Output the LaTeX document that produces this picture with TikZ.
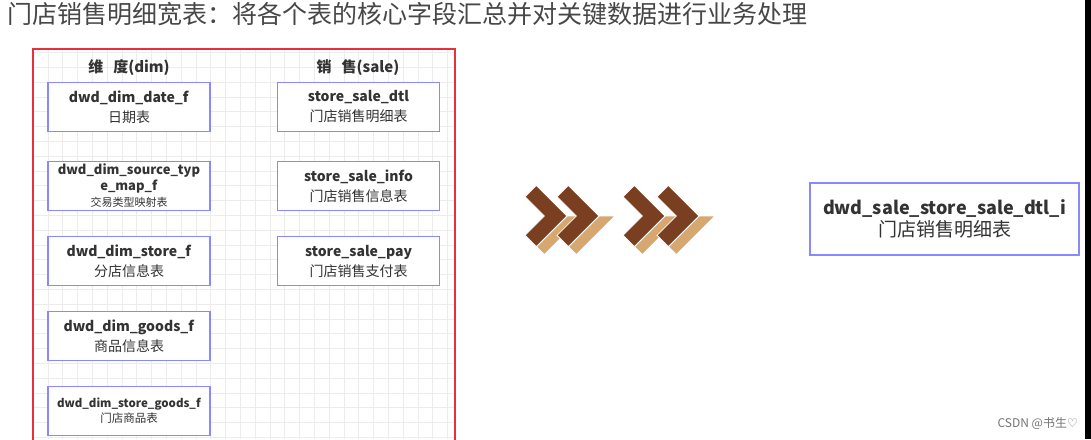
\documentclass[tikz,border=0pt]{standalone}
\usepackage{fontspec}
\setmainfont{Noto Sans CJK SC}
\newfontfamily\symfont{DejaVu Sans}
\usepackage{tikz}
\usetikzlibrary{calc}
\usepackage{xcolor}
\definecolor{boxblue}{RGB}{136,136,255}
\definecolor{framered}{RGB}{232,48,56}
\definecolor{gridgray}{RGB}{236,236,236}
\definecolor{chevdark}{RGB}{122,62,32}
\definecolor{chevtan}{RGB}{214,168,112}
\definecolor{textgray}{RGB}{51,51,51}

\begin{document}
\begin{tikzpicture}[x=1pt,y=-1pt,
  tbl/.style={draw=boxblue,line width=1.8pt,fill=white,minimum width=162,minimum height=49,
    inner sep=0pt,align=center,text=textgray,font=\fontsize{14}{20}\selectfont},
  hdr/.style={text=textgray,font=\bfseries\fontsize{15}{18}\selectfont},
  gridline/.style={gridgray,line width=0.8pt}
  ]
\def\L{25}
\def\c{5.66}
\def\m{11.31}
\def\t{8}
\useasboundingbox (0,0) rectangle (1091,439);
\node[anchor=west,text=black!72,font=\fontsize{25}{28}\selectfont,inner sep=0pt] (title) at (7,14)
  {门店销售明细宽表：将各个表的核心字段汇总并对关键数据进行业务处理};
% grid
\begin{scope}
\clip (33,49) rectangle (456,439);
\foreach \i in {0,...,29} \draw[gridline] ({33.2+\i*14.8},49) -- ++(0,390);
\foreach \j in {0,...,26} \draw[gridline] (33,{52.6+\j*14.8}) -- ++(423,0);
\end{scope}
\draw[framered,line width=1.8pt] (33,445) -- (33,49) -- (455,49) -- (455,445);
\node[hdr] (hdim) at (129,68) {维\hspace{10pt}度(dim)};
\node[hdr] (hsale) at (358,68) {销\hspace{10pt}售(sale)};
% dim tables
\node[tbl] (d1) at (129,107) {\textbf{dwd\_dim\_date\_f}\\日期表};
\node[tbl,font=\fontsize{13}{16}\selectfont] (d2) at (129,186)
  {\textbf{dwd\_dim\_source\_typ}\\\textbf{e\_map\_f}\\{\fontsize{11}{16}\selectfont 交易类型映射表}};
\node[tbl] (d3) at (129,261) {\textbf{dwd\_dim\_store\_f}\\分店信息表};
\node[tbl] (d4) at (129,336) {\textbf{dwd\_dim\_goods\_f}\\商品信息表};
\node[tbl,font=\fontsize{11.5}{15}\selectfont] (d5) at (129,411) {\textbf{dwd\_dim\_store\_goods\_f}\\门店商品表};
% sale tables
\node[tbl] (s1) at (358.5,107) {\textbf{store\_sale\_dtl}\\门店销售明细表};
\node[tbl] (s2) at (358.5,186) {\textbf{store\_sale\_info}\\门店销售信息表};
\node[tbl] (s3) at (358.5,261) {\textbf{store\_sale\_pay}\\门店销售支付表};
% chevrons
\foreach \cx in {530.7,562.7,628.7,662.7}{
  \begin{scope}[shift={(\cx,191)}]
  \fill[chevtan,draw=white,line width=0.8pt] (\L+\m,\L) -- ++(2*\t,0) -- (\c+\t,2*\L+\c+\t) -- (\c,2*\L+\c) -- cycle;
  \fill[chevdark,draw=white,line width=0.8pt] (-\c,\c) -- (\c,-\c) -- (\L+\m,\L) -- (\c,2*\L+\c)
    -- (-\c,2*\L-\c) -- (\L-\m,\L) -- cycle;
  \end{scope}
}
\node[tbl,minimum width=269,minimum height=72,font=\fontsize{19}{22}\selectfont] (out) at (944.5,219)
  {\textbf{\fontsize{18}{22}\selectfont dwd\_sale\_store\_sale\_dtl\_i}\\门店销售明细表};
\node[anchor=east,text=black!55,font=\fontsize{12}{14}\selectfont,inner sep=0pt] (mark) at (1078,423)
  {CSDN @书生{\symfont ♡}};
\fill[black] (1085,0) rectangle (1091,439);
\end{tikzpicture}
\end{document}
